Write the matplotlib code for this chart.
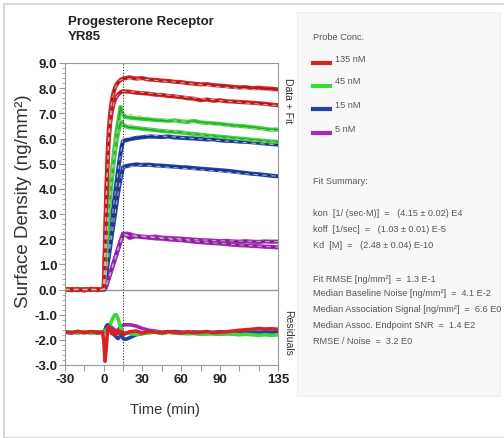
import matplotlib
matplotlib.use("Agg")
import matplotlib.pyplot as plt
import matplotlib.patches as patches
from matplotlib.ticker import MultipleLocator

plt.rcParams['font.family'] = ['Liberation Sans', 'DejaVu Sans']

# time grid (min)
t = [-30, -25, -20, -15, -10, -5, -1,
     0, 1, 2, 3, 4, 5, 6, 7, 8, 9, 10, 11, 12, 13, 14, 15,
     17, 20, 25, 30, 35, 40, 45, 50, 55, 60, 65, 70, 75, 80, 85, 90, 95,
     100, 105, 110, 115, 120, 125, 130, 135]

# measured data, two replicates per concentration
red_a = [0.02, -0.03, 0.01, -0.04, 0.03, -0.02, 0.0,
         0.0, 1.9, 3.9, 5.4, 6.4, 7.0, 7.4, 7.7, 7.9, 8.05, 8.15, 8.22, 8.28, 8.32, 8.36, 8.38,
         8.40, 8.43, 8.38, 8.40, 8.34, 8.33, 8.30, 8.29, 8.25, 8.24, 8.20, 8.18, 8.15, 8.16,
         8.12, 8.10, 8.08, 8.05, 8.03, 8.04, 8.00, 8.02, 7.99, 7.98, 7.95]
red_b = [-0.02, 0.02, -0.03, 0.01, -0.02, 0.02, 0.0,
         0.0, 1.6, 3.5, 5.0, 6.0, 6.6, 7.0, 7.25, 7.45, 7.58, 7.67, 7.74, 7.79, 7.83, 7.86, 7.88,
         7.87, 7.86, 7.82, 7.80, 7.78, 7.74, 7.73, 7.69, 7.67, 7.64, 7.60, 7.58, 7.52, 7.55,
         7.50, 7.52, 7.48, 7.47, 7.45, 7.44, 7.42, 7.40, 7.38, 7.35, 7.32]
green_a = [0.01, -0.02, 0.03, -0.01, 0.02, -0.03, 0.0,
           0.0, 0.9, 1.8, 2.6, 3.3, 3.9, 4.5, 5.0, 5.5, 5.9, 6.3, 6.6, 6.9, 7.25, 7.05, 6.95,
           6.85, 6.83, 6.80, 6.78, 6.76, 6.73, 6.72, 6.70, 6.72, 6.68, 6.66, 6.70, 6.64, 6.62,
           6.60, 6.58, 6.55, 6.52, 6.50, 6.48, 6.45, 6.42, 6.38, 6.35, 6.36]
green_b = [-0.02, 0.01, -0.01, 0.02, -0.02, 0.01, 0.0,
           0.0, 0.8, 1.6, 2.4, 3.1, 3.7, 4.2, 4.7, 5.2, 5.6, 5.9, 6.2, 6.4, 6.6, 6.65, 6.55,
           6.48, 6.44, 6.42, 6.38, 6.36, 6.33, 6.30, 6.28, 6.26, 6.24, 6.20, 6.18, 6.15, 6.12,
           6.10, 6.07, 6.05, 6.02, 6.00, 5.98, 5.95, 5.93, 5.90, 5.88, 5.87]
blue_a = [0.02, -0.01, 0.01, -0.03, 0.02, -0.01, 0.0,
          0.0, 0.4, 0.8, 1.25, 1.7, 2.15, 2.6, 3.05, 3.5, 3.9, 4.3, 4.7, 5.05, 5.4, 5.7, 5.9,
          5.93, 5.97, 6.02, 6.05, 6.08, 6.07, 6.06, 6.08, 6.04, 6.03, 6.01, 6.00, 5.98, 5.96,
          5.97, 5.93, 5.91, 5.90, 5.88, 5.87, 5.85, 5.83, 5.80, 5.78, 5.76]
blue_b = [-0.01, 0.02, -0.02, 0.01, 0.02, -0.02, 0.0,
          0.0, 0.3, 0.65, 1.0, 1.35, 1.7, 2.05, 2.4, 2.75, 3.1, 3.45, 3.8, 4.1, 4.4, 4.65, 4.85,
          4.90, 4.93, 4.97, 4.95, 4.96, 4.93, 4.92, 4.90, 4.88, 4.86, 4.85, 4.82, 4.80, 4.78,
          4.76, 4.74, 4.72, 4.69, 4.66, 4.63, 4.60, 4.58, 4.55, 4.52, 4.50]
mag_a = [0.01, -0.02, 0.02, -0.01, 0.01, -0.02, 0.0,
         0.0, 0.02, 0.15, 0.32, 0.48, 0.64, 0.8, 0.96, 1.12, 1.28, 1.44, 1.6, 1.76, 1.92, 2.08, 2.22,
         2.18, 2.05, 2.12, 2.10, 2.08, 2.10, 2.06, 2.05, 2.03, 2.02, 2.00, 1.98, 1.96, 1.95,
         1.94, 1.92, 1.93, 1.91, 1.90, 1.92, 1.90, 1.89, 1.91, 1.90, 1.90]
mag_b = [-0.02, 0.01, -0.01, 0.02, -0.02, 0.01, 0.0,
         0.0, 0.02, 0.14, 0.3, 0.46, 0.62, 0.78, 0.94, 1.1, 1.26, 1.42, 1.58, 1.74, 1.9, 2.05, 2.15,
         2.22, 2.20, 2.12, 2.08, 2.06, 2.03, 2.02, 1.99, 1.98, 1.96, 1.93, 1.90, 1.88, 1.86,
         1.84, 1.83, 1.80, 1.78, 1.76, 1.75, 1.73, 1.72, 1.70, 1.69, 1.67]

# fitted curves
t_fit = [-30, 0, 2, 4, 6, 8, 10, 12, 15, 30, 45, 60, 75, 90, 105, 120, 135]
fit_red_a = [0, 0, 3.8, 6.3, 7.4, 7.9, 8.15, 8.28, 8.38, 8.36, 8.29, 8.22, 8.14, 8.06, 7.99, 7.92, 7.86]
fit_red_b = [0, 0, 3.5, 6.0, 7.0, 7.45, 7.67, 7.79, 7.88, 7.83, 7.75, 7.67, 7.59, 7.51, 7.44, 7.37, 7.31]
fit_green_a = [0, 0, 1.8, 3.3, 4.5, 5.5, 6.2, 6.7, 7.0, 6.88, 6.78, 6.69, 6.60, 6.52, 6.44, 6.37, 6.30]
fit_green_b = [0, 0, 1.6, 3.1, 4.2, 5.2, 5.9, 6.35, 6.6, 6.46, 6.35, 6.24, 6.14, 6.05, 5.97, 5.90, 5.84]
fit_blue_a = [0, 0, 0.8, 1.7, 2.6, 3.5, 4.3, 5.05, 6.0, 6.15, 6.10, 6.04, 5.98, 5.92, 5.86, 5.80, 5.75]
fit_blue_b = [0, 0, 0.65, 1.35, 2.05, 2.75, 3.45, 4.1, 4.85, 4.95, 4.88, 4.82, 4.76, 4.69, 4.62, 4.56, 4.50]
fit_mag_a = [0, 0, 0.15, 0.48, 0.8, 1.12, 1.44, 1.76, 2.2, 2.12, 2.06, 2.01, 1.97, 1.94, 1.92, 1.91, 1.90]
fit_mag_b = [0, 0, 0.14, 0.46, 0.78, 1.1, 1.42, 1.74, 2.15, 2.10, 2.03, 1.96, 1.89, 1.83, 1.77, 1.72, 1.68]

# residuals (data - fit), drawn shifted below the curves
res_red = [0.02, -0.03, 0.04, -0.02, 0.03, -0.01, 0.0,
           -0.3, -1.15, -0.6, 0.1, 0.25, 0.15, -0.05, 0.1, 0.05, -0.1, 0.0, -0.05, 0.05, -0.02, 0.03, -0.1,
           -0.05, 0.02, 0.05, -0.03, 0.04, 0.0, -0.02, 0.03, 0.0, -0.03, 0.02, -0.02, 0.0, 0.03,
           -0.02, 0.0, 0.02, 0.05, 0.08, 0.1, 0.12, 0.15, 0.13, 0.14, 0.12]
res_green = [-0.03, 0.02, -0.02, 0.03, -0.04, 0.01, 0.0,
             0.0, 0.05, 0.1, 0.15, 0.2, 0.3, 0.45, 0.55, 0.65, 0.7, 0.68, 0.55, 0.4, 0.2, 0.05, -0.05,
             0.0, -0.05, -0.08, -0.05, -0.03, 0.02, -0.05, 0.0, -0.03, -0.05, -0.06, -0.05, -0.08, -0.07,
             -0.06, -0.08, -0.05, -0.07, -0.1, -0.08, -0.1, -0.12, -0.1, -0.12, -0.1]
res_blue = [0.01, -0.02, 0.02, -0.01, 0.02, -0.03, 0.0,
            0.0, 0.1, 0.25, 0.3, 0.2, 0.1, 0.0, -0.05, -0.1, -0.15, -0.2, -0.25, -0.2, -0.15, -0.1, -0.25,
            -0.28, -0.22, -0.1, -0.05, 0.0, 0.02, -0.02, 0.0, 0.03, 0.0, -0.02, 0.01, 0.0, -0.02,
            0.0, 0.02, 0.0, -0.02, 0.0, 0.02, 0.0, -0.01, 0.02, 0.0, 0.01]
res_mag = [-0.01, 0.02, -0.02, 0.01, -0.01, 0.02, 0.0,
           0.0, 0.05, 0.15, 0.25, 0.3, 0.25, 0.2, 0.15, 0.1, 0.08, 0.05, 0.1, 0.15, 0.2, 0.25, 0.28,
           0.3, 0.3, 0.25, 0.15, 0.08, 0.05, 0.0, 0.02, -0.02, 0.0, -0.03, 0.0, -0.05, -0.03,
           -0.05, -0.08, -0.05, -0.06, -0.03, -0.05, -0.02, 0.0, -0.02, 0.0, -0.01]
RES_OFFSET = -1.7

conc_labels = ['135 nM', '45 nM', '15 nM', '5 nM']
colors = ['#d62424', '#3ad83a', '#2142a8', '#a626b8']
cores = ['#8e1414', '#1c9a1c', '#152a70', '#701680']
y_ticks = [-3.0, -2.0, -1.0, 0.0, 1.0, 2.0, 3.0, 4.0, 5.0, 6.0, 7.0, 8.0, 9.0]
x_ticks = [-30, -15, 0, 15, 30, 45, 60, 75, 90, 105, 120, 135]
x_tick_labels = ['-30', '', '0', '', '30', '', '60', '', '90', '', '', '135']

fig = plt.figure(figsize=(5.04, 4.39), dpi=100)
fig.patch.set_facecolor('white')

# outer frame and side panel
fig.add_artist(patches.Rectangle((4 / 504, 0), 1, 1 - 5 / 439, transform=fig.transFigure,
                                 fill=False, edgecolor='#d8d8d8', lw=1.5))
fig.add_artist(patches.Rectangle((297 / 504, 1 - 397 / 439), 203 / 504, 384 / 439,
                                 transform=fig.transFigure, facecolor='#f8f8f8',
                                 edgecolor='#f0f0f0', lw=0.8))

ax = fig.add_axes([65 / 504, 1 - 366 / 439, 213 / 504, 302 / 439])

data_sets = [(red_a, red_b), (green_a, green_b), (blue_a, blue_b), (mag_a, mag_b)]
fit_sets = [(fit_red_a, fit_red_b), (fit_green_a, fit_green_b),
            (fit_blue_a, fit_blue_b), (fit_mag_a, fit_mag_b)]
res_sets = [res_red, res_green, res_blue, res_mag]

for (ya, yb), c, k in zip(data_sets[::-1], colors[::-1], cores[::-1]):
    for y in (ya, yb):
        ax.plot(t, y, color=c, lw=3.0, solid_joinstyle='round')
        ax.plot(t, y, color=k, lw=0.9, alpha=0.8)

for fa, fb in fit_sets:
    for f in (fa, fb):
        ax.plot(t_fit, f, color='#bdbdbd', lw=0.8, ls=(0, (4, 4)), alpha=0.9)

for r, c in zip(res_sets[::-1], colors[::-1]):
    ax.plot(t, [v + RES_OFFSET for v in r], color=c, lw=2.6, solid_joinstyle='round')

ax.axhline(0, color='#9a9a9a', lw=1.0, zorder=0.5)
ax.axvline(15, color='#333333', lw=0.8, ls=(0, (1, 1.5)))

ax.set_xticks(x_ticks)
ax.set_xticklabels(x_tick_labels)
ax.set_yticks(y_ticks)
ax.set_yticklabels([f'{v:.1f}' for v in y_ticks])
ax.yaxis.set_minor_locator(MultipleLocator(0.2))
ax.set_xlim(-30, 135)
ax.set_ylim(-3.0, 9.0)
for sp in ax.spines.values():
    sp.set_color('#9a9a9a')
ax.tick_params(axis='both', which='both', colors='#9a9a9a', labelcolor='#222222',
               labelsize=9.5, direction='out', pad=1.5)
ax.tick_params(axis='both', which='major', length=4)
ax.tick_params(axis='y', which='minor', length=2)
for lab in ax.get_xticklabels() + ax.get_yticklabels():
    lab.set_fontweight('bold')

fig.text(24 / 504, 1 - 201 / 439, 'Surface Density (ng/mm\u00b2)', fontsize=13.5,
         color='#333333', rotation=90, ha='center', va='center')
fig.text(165 / 504, 1 - 410 / 439, 'Time (min)', fontsize=10.5, color='#333333',
         ha='center', va='center')

ax.text(1.025, 0.88, 'Data + Fit', transform=ax.transAxes, rotation=-90,
        fontsize=7.5, color='#333333', va='center', ha='left')
ax.text(1.025, 0.11, 'Residuals', transform=ax.transAxes, rotation=-90,
        fontsize=7.5, color='#333333', va='center', ha='left')

fig.text(68 / 504, 1 - 16 / 439, 'Progesterone Receptor\nYR85', fontsize=9.5,
         fontweight='bold', color='#222222', va='top', ha='left', linespacing=1.3)

# legend panel
txt = '#555555'
fig.text(313 / 504, 1 - 38 / 439, 'Probe Conc.', fontsize=6.6, color=txt, va='center')
leg_text_y = [59, 82, 105, 129]
leg_line_y = [64, 87, 110, 134]
for ty, ly, c, lab in zip(leg_text_y, leg_line_y, colors, conc_labels):
    fy = 1 - ly / 439
    fig.add_artist(plt.Line2D([313 / 504, 330 / 504], [fy, fy], transform=fig.transFigure,
                              color=c, lw=3))
    fig.text(335 / 504, 1 - ty / 439, lab, fontsize=6.6, color=txt, va='center')

summary = [
    (182, 'Fit Summary:'),
    (213, 'kon  [1/ (sec\u00b7M)]  =   (4.15 \u00b1 0.02) E4'),
    (230, 'koff  [1/sec]  =   (1.03 \u00b1 0.01) E-5'),
    (246, 'Kd  [M]  =   (2.48 \u00b1 0.04) E-10'),
    (279, 'Fit RMSE [ng/mm\u00b2]  =  1.3 E-1'),
    (294, 'Median Baseline Noise [ng/mm\u00b2]  =  4.1 E-2'),
    (310, 'Median Association Signal [ng/mm\u00b2]  =  6.6 E0'),
    (326, 'Median Assoc. Endpoint SNR  =  1.4 E2'),
    (342, 'RMSE / Noise  =  3.2 E0'),
]
for yy, s in summary:
    fig.text(313 / 504, 1 - yy / 439, s, fontsize=6.6, color=txt, va='center')

fig.savefig('out.png', dpi=100)
